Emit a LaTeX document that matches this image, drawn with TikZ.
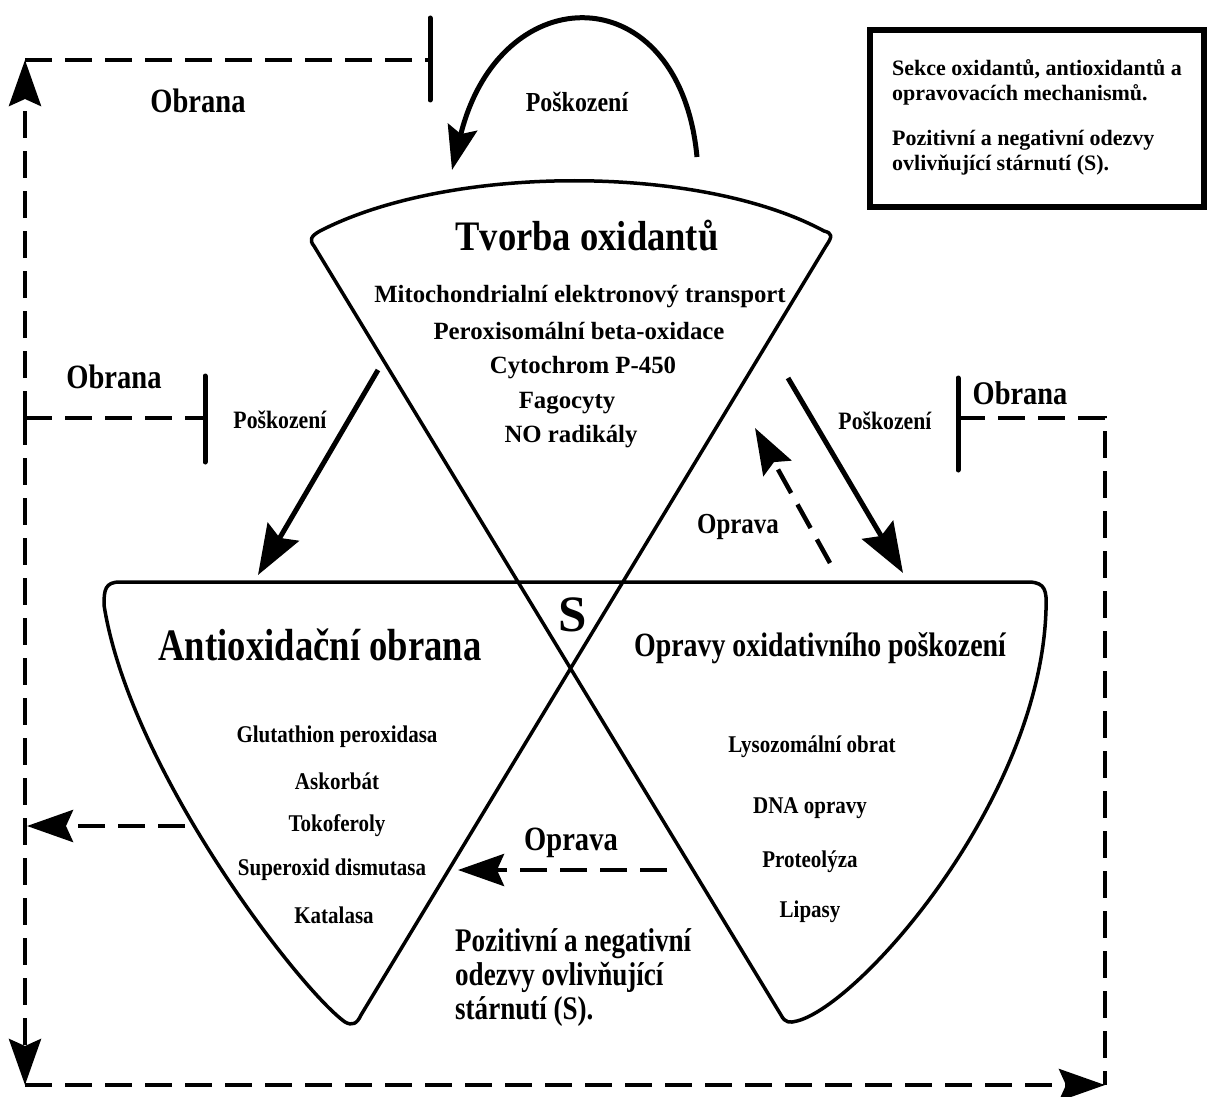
\documentclass[tikz,border=0pt]{standalone}
\usepackage{fontspec}
\usepackage{graphicx}
\setmainfont{Liberation Serif}
\usetikzlibrary{arrows.meta}
\newcommand\myfs[2]{\fontsize{#1}{#2}\selectfont}
\newcommand\cnd[2]{\scalebox{#1}[1]{#2}}
\begin{document}
\begin{tikzpicture}[x=1pt,y=-1pt,
  lbl/.style={inner sep=0pt},
  outline/.style={line width=3.5pt, line join=round, line cap=round},
  bigtip/.style={-{Stealth[length=46pt,width=32pt,inset=7pt]}},
  soltip/.style={-{Stealth[length=50pt,width=36pt,inset=7pt]}},
  solidarr/.style={line width=5pt, soltip},
  dashedln/.style={line width=4.5pt, dash pattern=on 27pt off 13pt},
  dashedarr/.style={dashedln, bigtip},
  tbar/.style={line width=5pt, line cap=round},
]
\useasboundingbox (0,0) rectangle (1208,1097);

% ---------- cones ----------
\draw[outline] (361,1015) -- (826,246)
  .. controls (833,236) and (832,233) .. (824,231)
  .. controls (700,164) and (450,164) .. (320,231)
  .. controls (311,236) and (309,240) .. (314,246)
  -- (781,1015)
  .. controls (785,1023) and (790,1023) .. (797,1021)
  .. controls (860,1005) and (1040,800) .. (1046,610)
  .. controls (1047,590) and (1045,583) .. (1030,582)
  -- (120,582)
  .. controls (105,582) and (104,590) .. (104,605)
  .. controls (130,770) and (300,990) .. (345,1022)
  .. controls (352,1026) and (357,1024) .. (361,1015) -- cycle;

% ---------- coordinates ----------
\coordinate (TLc) at (25,60);
\coordinate (Lmid) at (25,418);
\coordinate (BLc) at (25,1085);
\coordinate (BRc) at (1105,1085);
\coordinate (Rmid) at (1105,418);
\coordinate (Tbar) at (430,60);  \coordinate (TbarA) at (430,18);  \coordinate (TbarB) at (430,100);
\coordinate (Lbar) at (205,418); \coordinate (LbarA) at (205,376); \coordinate (LbarB) at (205,462);
\coordinate (Rbar) at (958,418); \coordinate (RbarA) at (958,378); \coordinate (RbarB) at (958,470);
\coordinate (Lsrc) at (185,826); \coordinate (Lout) at (27,826);
\coordinate (Osrc) at (667,870); \coordinate (Otip) at (458,870);
\coordinate (Rsrc) at (830,563); \coordinate (Rtip) at (755,428);
\coordinate (PLs) at (378,370);  \coordinate (PLt) at (258,575);
\coordinate (PRs) at (788,378);  \coordinate (PRt) at (903,573);
\coordinate (PTs) at (697,157);  \coordinate (PTt) at (452,170);

% ---------- T bars ----------
\draw[tbar] (TbarA) -- (TbarB);
\draw[tbar] (LbarA) -- (LbarB);
\draw[tbar] (RbarA) -- (RbarB);

% ---------- dashed feedback lines ----------
\draw[dashedln] (TLc) -- (Tbar);
\draw[dashedln] (Lmid) -- (Lbar);
\draw[dashedln] (Rbar) -- (Rmid) -- (BRc);
\draw[dashedarr] (Lmid) -- (TLc);
\draw[dashedarr] (Lmid) -- (BLc);
\draw[dashedarr] (BLc) -- (BRc);
\draw[dashedarr] (Lsrc) -- (Lout);
\draw[dashedarr] (Osrc) -- (Otip);
\draw[dashedarr] (Rsrc) -- (Rtip);

% ---------- solid arrows ----------
\draw[solidarr] (PLs) -- (PLt);
\draw[solidarr] (PRs) -- (PRt);
\draw[line width=5pt, -{Stealth[length=44pt,width=30pt,inset=7pt]}] (PTs) .. controls (680,-25) and (500,-25) .. (PTt);

% ---------- info box ----------
\draw[line width=6pt] (870,30) rectangle (1204,207);
\node[lbl, anchor=north west, align=left, font=\bfseries\myfs{22}{25}] (info) at (892,59)
  {Sekce oxidantů, antioxidantů a\\ opravovacích mechanismů.\\[20pt]
   Pozitivní a negativní odezvy\\ ovlivňující stárnutí (S).};

% ---------- labels ----------
\node[lbl, font=\bfseries\myfs{34}{36}] (ob1) at (198,101) {\cnd{0.84}{Obrana}};
\node[lbl, font=\bfseries\myfs{34}{36}] (ob2) at (114,377) {\cnd{0.84}{Obrana}};
\node[lbl, font=\bfseries\myfs{33}{36}] (ob3) at (1020,393) {\cnd{0.86}{Obrana}};
\node[lbl, font=\bfseries\myfs{27.5}{30}] (po1) at (577,102) {\cnd{0.87}{Poškození}};
\node[lbl, font=\bfseries\myfs{25}{28}] (po2) at (280,420) {\cnd{0.87}{Poškození}};
\node[lbl, font=\bfseries\myfs{25}{28}] (po3) at (885,421) {\cnd{0.87}{Poškození}};
\node[lbl, font=\bfseries\myfs{29}{32}] (op1) at (738,527) {\cnd{0.86}{Oprava}};
\node[lbl, font=\bfseries\myfs{34}{36}] (op2) at (571,843) {\cnd{0.84}{Oprava}};

% top cone
\node[lbl, font=\bfseries\myfs{42}{45}] (tvorba) at (587,236) {\cnd{0.87}{Tvorba oxidantů}};
\node[lbl, font=\bfseries\myfs{24.8}{27}] (t1) at (580,297) {Mitochondrialní elektronový transport};
\node[lbl, font=\bfseries\myfs{24.8}{27}] (t2) at (579,331) {Peroxisomální beta-oxidace};
\node[lbl, font=\bfseries\myfs{24.8}{27}] (t3) at (583,368) {Cytochrom P-450};
\node[lbl, font=\bfseries\myfs{24.8}{27}] (t4) at (567,403) {Fagocyty};
\node[lbl, font=\bfseries\myfs{24.8}{27}] (t5) at (571,437) {NO radikály};

\node[lbl, font=\bfseries\myfs{51}{55}] (S) at (573,615) {S};

% left cone
\node[lbl, font=\bfseries\myfs{45}{48}] (anti) at (320,645) {\cnd{0.815}{Antioxidační obrana}};
\node[lbl, font=\bfseries\myfs{24}{26}] (a1) at (337,737) {\cnd{0.875}{Glutathion peroxidasa}};
\node[lbl, font=\bfseries\myfs{24}{26}] (a2) at (337,781) {\cnd{0.875}{Askorbát}};
\node[lbl, font=\bfseries\myfs{24}{26}] (a3) at (337,826) {\cnd{0.875}{Tokoferoly}};
\node[lbl, font=\bfseries\myfs{24}{26}] (a4) at (332,870) {\cnd{0.875}{Superoxid dismutasa}};
\node[lbl, font=\bfseries\myfs{24}{26}] (a5) at (334,915) {\cnd{0.875}{Katalasa}};

% right cone
\node[lbl, font=\bfseries\myfs{34}{36}] (oprt) at (820,648) {\cnd{0.82}{Opravy oxidativního poškození}};
\node[lbl, font=\bfseries\myfs{24}{26}] (r1) at (812,747) {\cnd{0.875}{Lysozomální obrat}};
\node[lbl, font=\bfseries\myfs{24}{26}] (r2) at (810,808) {\cnd{0.875}{DNA opravy}};
\node[lbl, font=\bfseries\myfs{24}{26}] (r3) at (810,862) {\cnd{0.875}{Proteolýza}};
\node[lbl, font=\bfseries\myfs{24}{26}] (r4) at (810,912) {\cnd{0.875}{Lipasy}};

% bottom text
\node[lbl, anchor=north west, align=left, font=\bfseries\myfs{33}{34}] (poz) at (455,928)
  {\cnd{0.82}{Pozitivní a negativní}\\ \cnd{0.82}{odezvy ovlivňující}\\ \cnd{0.82}{stárnutí (S).}};
\end{tikzpicture}
\end{document}
